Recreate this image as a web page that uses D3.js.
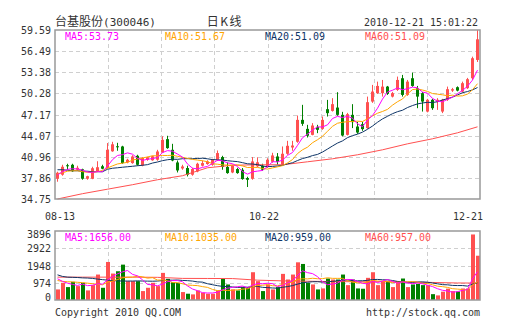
<!DOCTYPE html>
<html><head><meta charset="utf-8">
<script src="https://cdn.jsdelivr.net/npm/d3@7"></script>
<style>body{margin:0;background:#fff}svg{display:block}</style>
</head><body>
<svg id="c" width="505" height="330"></svg>
<script>
// ---------- data ----------
const opens = [37.73,38.32,39.71,39.78,39.05,39.12,37.73,37.73,38.83,39.56,
  39.30,41.76,42.50,42.47,40.12,40.03,41.10,39.68,40.52,40.44,
  40.52,41.59,43.55,41.98,40.12,39.24,39.30,38.32,38.80,39.64,
  39.89,39.78,40.52,40.91,39.45,38.65,39.15,39.05,37.83,37.73,
  39.56,39.64,39.49,40.22,41.00,39.78,41.40,42.32,43.16,46.38,
  45.06,44.18,45.36,45.06,47.95,47.70,48.19,47.12,44.18,47.12,
  45.40,45.75,45.17,49.07,50.30,50.30,51.27,49.80,50.79,52.50,
  50.05,52.50,51.04,50.30,47.60,49.33,49.07,47.60,49.33,50.68,
  51.18,50.54,51.04,52.50,55.19];
const highs = [38.76,39.78,39.93,39.93,39.64,39.20,38.17,39.49,40.30,39.78,
  42.97,43.16,43.01,42.57,40.66,41.18,41.25,40.88,40.96,41.10,
  41.98,43.96,44.04,42.86,40.41,39.78,39.64,39.34,40.08,40.41,
  40.44,40.66,41.88,41.10,40.12,39.78,39.34,39.30,38.02,40.91,
  40.88,39.93,40.74,41.54,41.50,42.47,43.30,43.30,47.02,48.59,
  45.65,45.90,45.65,46.87,49.32,49.57,50.45,47.56,47.41,48.69,
  46.09,46.09,49.80,51.52,52.00,52.25,51.37,50.49,52.74,52.99,
  52.25,53.32,51.37,50.49,49.47,49.47,49.57,49.47,51.27,51.08,
  51.30,52.00,52.55,55.67,59.59];
const lows = [37.29,38.17,39.05,38.76,38.90,37.58,37.58,37.66,38.76,39.12,
  39.20,41.69,41.84,39.93,40.00,39.93,39.64,39.56,40.37,40.37,
  40.37,41.54,42.13,40.30,38.65,39.05,38.07,38.17,38.68,39.53,
  39.78,39.64,40.37,39.05,38.46,38.54,38.46,37.58,36.51,37.58,
  39.42,38.90,39.34,40.08,39.78,39.71,41.25,41.84,43.01,45.50,
  43.79,44.11,44.43,44.92,46.87,47.60,46.97,43.96,44.08,45.17,
  44.33,44.77,45.06,48.88,50.20,49.80,50.05,49.68,50.64,49.80,
  49.91,51.23,48.10,47.60,47.48,47.85,47.85,47.37,49.17,50.49,
  50.57,50.42,50.93,52.25,54.89];
const closes = [38.61,39.49,39.56,38.83,39.34,37.73,38.10,39.27,39.42,39.20,
  41.98,42.79,42.35,40.03,40.52,41.00,39.78,40.77,40.88,41.03,
  41.73,43.45,42.23,40.41,38.95,39.53,38.32,39.15,39.93,40.03,
  40.27,40.52,41.50,39.45,38.56,39.64,38.56,37.68,37.58,40.27,
  40.15,39.05,40.52,41.15,40.18,41.40,42.57,42.61,46.38,45.80,
  44.04,45.55,44.92,46.38,47.37,48.69,47.12,44.08,47.22,46.05,
  44.52,45.02,48.98,50.54,51.37,51.27,50.20,50.30,52.25,50.05,
  52.00,51.37,49.80,49.07,49.33,48.10,49.33,49.33,50.89,50.89,
  50.68,51.77,52.36,55.44,58.22];
const volumes = [597,970,728,1027,784,970,541,840,1437,690,
  2147,1493,1624,1997,1064,1064,1064,504,690,970,
  784,1531,1195,1008,970,448,355,317,541,411,
  355,355,541,1195,877,597,541,728,728,1568,
  1064,504,877,597,728,1475,1157,1437,2128,2035,
  970,877,597,653,1213,1157,1157,1437,840,1157,
  653,635,1251,1568,840,1064,1064,728,1064,1213,
  728,877,915,840,840,330,260,470,640,500,
  480,650,650,3700,2500];

// moving-average values for the first days (history before 08-13 not shown)
const ma5Head  = [38.30,38.75,39.10,39.20];
const ma10Head = [38.46,38.61,38.83,38.90,38.90,38.76,38.68,38.68,38.76];
const ma20Head = [39.05,39.05,38.98,38.90,38.90,38.83,38.83,38.76,38.76,38.76,
  39.12,39.27,39.34,39.42,39.49,39.56,39.64,39.71,39.80];
const ma60Idx  = [0,5,10,15,20,25,30,35,40,45,50,55,60,65,70,75,80,84];
const ma60Vals = [34.75,35.53,36.19,36.85,37.58,38.17,39.34,39.71,39.78,39.78,
  40.22,40.66,41.25,41.98,42.86,43.60,44.48,45.36];

const vma5Head  = [1200,1050,950,880];
const vma10Head = [1100,1050,1030,1020,1000,980,950,920,890];
const vma20Head = [1420,1330,1290,1280,1270,1250,1240,1220,1180,1150,
  1120,1100,1080,1070,1070,1070,1080,1070,1065];
const vma60Idx  = [0,5,10,15,20,25,30,35,40,45,50,55,60,65,70,75,80,84];
const vma60Vals = [1290,1290,1290,1290,1280,1220,1215,1210,1120,1080,
  1060,1040,1030,1030,1020,990,960,957];

const priceTicks = [34.75,37.86,40.96,44.07,47.17,50.28,53.38,56.49,59.59];
const priceTickLabels = ["34.75","37.86","40.96","44.07","47.17","50.28","53.38","56.49","59.59"];
const volTicks = [0,974,1948,2922,3896];
const volTickLabels = ["0","974","1948","2922","3896"];
const dateIdx = [0,42,84];
const dateLabels = ["08-13","10-22","12-21"];

const priceLegend = ["MA5:53.73","MA10:51.67","MA20:51.09","MA60:51.09"];
const volLegend = ["MA5:1656.00","MA10:1035.00","MA20:959.00","MA60:957.00"];
const maColors = ["#ff00ff","#ffa500","#0d3466","#ff5050"];

const titleName = "台基股份";
const titleCode = "(300046)";
const titleMid = "日K线";
const stamp = "2010-12-21 15:01:22";
const footLeft = "Copyright 2010 QQ.COM";
const footRight = "http://stock.qq.com";

// ---------- layout ----------
const L = 55, R = 480, PT = 30, PB = 199, VT = 231, VB = 300;
const UP = "#ff5050", DOWN = "#008000", TXT = "#333";
const MONO = "'DejaVu Sans Mono', monospace";
const CJK = "'Noto Sans CJK SC', sans-serif";

const svg = d3.select("#c");
const n = closes.length;
const x = d3.scaleBand().domain(d3.range(n)).range([L, R]).padding(0);
const cx = i => x(i) + 2.5;
const yP = d3.scaleLinear().domain([34.75, 59.59]).range([PB, PT]);
const yV = d3.scaleLinear().domain([0, 3896]).range([VB, VT]);
const gx = d3.scaleLinear().domain([0, 8]).range([L, R]);

function monoText(g, str, tx, ty, anchor, color) {
  return g.append("text").attr("x", tx).attr("y", ty)
    .attr("text-anchor", anchor).attr("fill", color || TXT)
    .attr("font-family", MONO).attr("font-size", 11)
    .attr("textLength", str.length * 6).attr("lengthAdjust", "spacingAndGlyphs")
    .text(str);
}

// moving averages from the data
function movAvg(arr, k, head) {
  return arr.map((_, i) => i < k - 1 ? head[i] : d3.mean(arr.slice(i - k + 1, i + 1)));
}

// ---------- panels ----------
function panel(top, bottom, ticks, yScale) {
  const g = svg.append("g");
  ticks.forEach(t => {
    const yy = Math.round(yScale(t)) + 0.5;
    if (yy > top + 1 && yy < bottom - 1)
      g.append("line").attr("x1", L).attr("x2", R).attr("y1", yy).attr("y2", yy)
        .attr("stroke", "#cfcfcf").attr("stroke-dasharray", "4,3");
  });
  d3.range(1, 8).forEach(k => {
    const xx = Math.round(gx(k)) + 0.5;
    g.append("line").attr("x1", xx).attr("x2", xx).attr("y1", top).attr("y2", bottom)
      .attr("stroke", "#cfcfcf").attr("stroke-dasharray", "4,3");
  });
  return g;
}
panel(PT, PB, priceTicks, yP);
panel(VT, VB, volTicks, yV);

// candles
const cg = svg.append("g");
d3.range(n).forEach(i => {
  const up = closes[i] >= opens[i];
  const col = up ? UP : DOWN;
  cg.append("line").attr("x1", cx(i)).attr("x2", cx(i))
    .attr("y1", yP(highs[i])).attr("y2", yP(lows[i])).attr("stroke", col);
  const y1 = yP(Math.max(opens[i], closes[i])), y2 = yP(Math.min(opens[i], closes[i]));
  cg.append("rect").attr("x", x(i) + 1).attr("width", 3)
    .attr("y", y1).attr("height", Math.max(1, y2 - y1)).attr("fill", col);
});

// volume bars
const vg = svg.append("g");
d3.range(n).forEach(i => {
  const up = closes[i] >= opens[i];
  vg.append("rect").attr("x", x(i) + 1).attr("width", 4)
    .attr("y", yV(volumes[i])).attr("height", VB - yV(volumes[i]))
    .attr("fill", up ? UP : DOWN);
});

// MA lines
function drawLine(vals, idx, yScale, color) {
  const pts = vals.map((v, j) => [cx(idx ? idx[j] : j), yScale(v)]);
  svg.append("path").attr("d", d3.line()(pts)).attr("fill", "none")
    .attr("stroke", color).attr("stroke-width", 1);
}
drawLine(ma60Vals, ma60Idx, yP, maColors[3]);
drawLine(movAvg(closes, 20, ma20Head), null, yP, maColors[2]);
drawLine(movAvg(closes, 10, ma10Head), null, yP, maColors[1]);
drawLine(movAvg(closes, 5, ma5Head), null, yP, maColors[0]);

drawLine(vma60Vals, vma60Idx, yV, maColors[3]);
drawLine(movAvg(volumes, 20, vma20Head), null, yV, maColors[2]);
drawLine(movAvg(volumes, 10, vma10Head), null, yV, maColors[1]);
drawLine(movAvg(volumes, 5, vma5Head), null, yV, maColors[0]);

// frames
[[PT, PB], [VT, VB]].forEach(([t, b]) => {
  svg.append("rect").attr("x", L).attr("y", t).attr("width", R - L).attr("height", b - t)
    .attr("fill", "none").attr("stroke", "#999").attr("stroke-width", 1.5);
});

// axis labels
const tg = svg.append("g");
priceTicks.forEach((t, j) => monoText(tg, priceTickLabels[j], 51, yP(t) + 4, "end"));
volTicks.forEach((t, j) => {
  let yy = yV(t);
  yy = Math.max(VT + 2.5, Math.min(VB - 3, yy));
  monoText(tg, volTickLabels[j], 51, yy + 4, "end");
});
dateIdx.forEach((i, j) => {
  const w = dateLabels[j].length * 6;
  let c = x(i) - 1;
  c = Math.max(45 + w / 2, Math.min(483 - w / 2, c));
  monoText(tg, dateLabels[j], c, 220, "middle");
});

// legends
const legX = [65, 165, 265, 365];
priceLegend.forEach((s, j) => monoText(tg, s, legX[j], 40, "start", maColors[j]));
volLegend.forEach((s, j) => monoText(tg, s, legX[j], 240.5, "start", maColors[j]));

// header
const th = tg.append("text").attr("x", 55).attr("y", 26).attr("fill", TXT);
th.append("tspan").attr("font-family", CJK).attr("font-size", 12).text(titleName);
th.append("tspan").attr("font-family", MONO).attr("font-size", 11).text(titleCode);
tg.append("text").attr("x", 225).attr("y", 26).attr("text-anchor", "middle")
  .attr("font-family", CJK).attr("font-size", 12).attr("letter-spacing", 1.5)
  .attr("fill", TXT).text(titleMid);
monoText(tg, stamp, 478, 26, "end");

// footer
monoText(tg, footLeft, 55, 316, "start");
monoText(tg, footRight, 480, 316, "end");
</script>
</body></html>
